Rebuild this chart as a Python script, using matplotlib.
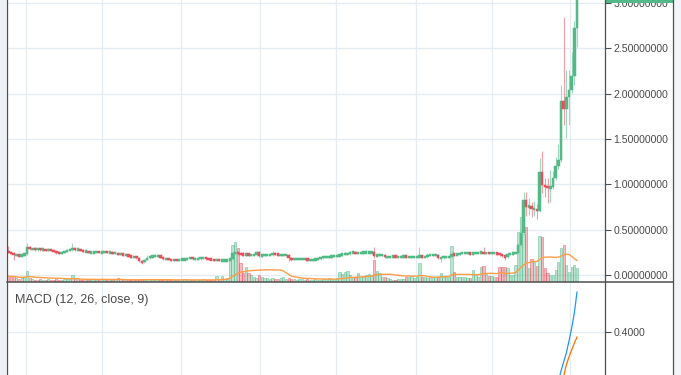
import numpy as np
import pandas as pd
import matplotlib
matplotlib.use("Agg")
import matplotlib.pyplot as plt
from matplotlib.patches import Rectangle
from matplotlib.lines import Line2D
from matplotlib.colors import to_rgba

# ---------------- data ----------------
closes = [
    0.25, 0.24, 0.22, 0.22, 0.21, 0.22, 0.23, 0.31, 0.29, 0.29,
    0.28, 0.29, 0.28, 0.28, 0.27, 0.28, 0.27, 0.26, 0.25, 0.24,
    0.25, 0.26, 0.27, 0.28, 0.30, 0.28, 0.28, 0.27, 0.26, 0.26,
    0.25, 0.25, 0.25, 0.26, 0.25, 0.25, 0.26, 0.25, 0.25, 0.24,
    0.24, 0.23, 0.23, 0.22, 0.22, 0.21, 0.20, 0.20, 0.19, 0.15,
    0.14, 0.17, 0.19, 0.20, 0.21, 0.21, 0.21, 0.20, 0.18, 0.18,
    0.17, 0.165, 0.165, 0.16, 0.17, 0.17, 0.17, 0.19, 0.19, 0.18,
    0.18, 0.18, 0.19, 0.19, 0.18, 0.175, 0.17, 0.165, 0.165, 0.16,
    0.16, 0.16, 0.16, 0.18, 0.24, 0.25, 0.24, 0.23, 0.22, 0.23,
    0.22, 0.22, 0.22, 0.25, 0.21, 0.22, 0.22, 0.22, 0.22, 0.24,
    0.23, 0.22, 0.22, 0.22, 0.22, 0.19, 0.17, 0.18, 0.18, 0.18,
    0.18, 0.18, 0.165, 0.165, 0.17, 0.175, 0.18, 0.19, 0.20, 0.20,
    0.20, 0.21, 0.21, 0.21, 0.22, 0.23, 0.23, 0.23, 0.25, 0.25,
    0.24, 0.24, 0.245, 0.25, 0.25, 0.25, 0.25, 0.21, 0.22, 0.22,
    0.22, 0.20, 0.20, 0.20, 0.21, 0.20, 0.20, 0.20, 0.21, 0.20,
    0.20, 0.20, 0.20, 0.20, 0.21, 0.20, 0.20, 0.22, 0.22, 0.22,
    0.22, 0.19, 0.19, 0.20, 0.20, 0.20, 0.23, 0.225, 0.23, 0.24,
    0.24, 0.24, 0.24, 0.235, 0.24, 0.24, 0.245, 0.25, 0.24, 0.245,
    0.24, 0.24, 0.24, 0.235, 0.225, 0.21, 0.20, 0.23, 0.235, 0.24,
    0.245, 0.33, 0.46, 0.83, 0.75, 0.76, 0.73, 0.73, 0.71, 1.14,
    0.99, 0.98, 0.96, 0.97, 1.07, 1.20, 1.27, 1.92, 1.83, 1.96,
    2.04, 2.20, 2.72, 3.20,
]
first_open = 0.26

# wick lengths above / below the body, in hundredths of a unit
wick_up = [
    6, 1, 1, 1, 1, 1, 1, 4, 1, 1,
    2, 1, 1, 1, 1, 2, 1, 1, 1, 2,
    1, 1, 2, 1, 5, 1, 1, 1, 2, 1,
    1, 1, 1, 1, 1, 1, 1, 1, 2, 1,
    1, 1, 1, 1, 2, 1, 1, 1, 1, 1,
    1, 1, 3, 1, 1, 1, 1, 1, 1, 1,
    1, 1, 1, 1, 1, 1, 2, 1, 1, 1,
    1, 1, 1, 1, 1, 1, 1, 1, 1, 1,
    1, 1, 1, 1, 2, 2, 1, 1, 2, 1,
    1, 1, 1, 2, 1, 1, 1, 1, 1, 2,
    1, 1, 1, 1, 1, 1, 1, 1, 1, 1,
    1, 1, 1, 1, 1, 1, 1, 1, 1, 1,
    1, 1, 1, 1, 1, 1, 2, 1, 2, 1,
    1, 1, 1, 2, 3, 1, 1, 6, 1, 1,
    1, 1, 1, 1, 1, 1, 1, 1, 1, 1,
    1, 1, 1, 1, 10, 1, 1, 2, 1, 1,
    1, 1, 1, 1, 1, 1, 3, 1, 1, 1,
    1, 1, 1, 1, 1, 1, 1, 2, 6, 1,
    1, 1, 1, 1, 1, 1, 1, 2, 1, 1,
    1, 2, 4, 8, 8, 9, 4, 9, 5, 15,
    23, 8, 9, 19, 8, 10, 18, 18, 93, 30,
    22, 26, 8, 5,
]
wick_dn = [
    1, 1, 5, 1, 1, 1, 1, 1, 1, 1,
    1, 1, 1, 1, 1, 1, 1, 1, 2, 1,
    1, 1, 1, 1, 1, 1, 1, 1, 1, 1,
    1, 1, 1, 1, 1, 1, 1, 1, 1, 1,
    1, 1, 1, 1, 1, 1, 1, 1, 1, 1,
    2, 1, 1, 1, 1, 1, 1, 1, 1, 1,
    1, 1, 1, 1, 1, 1, 1, 1, 1, 1,
    1, 1, 1, 1, 1, 1, 1, 1, 1, 1,
    1, 1, 1, 1, 1, 1, 2, 1, 1, 1,
    1, 1, 1, 1, 1, 1, 1, 1, 1, 1,
    1, 1, 1, 1, 1, 4, 2, 1, 1, 1,
    1, 1, 1, 1, 1, 1, 1, 1, 1, 1,
    1, 1, 1, 1, 1, 1, 1, 1, 1, 1,
    1, 1, 1, 1, 1, 1, 1, 2, 1, 1,
    1, 1, 1, 1, 1, 1, 1, 1, 1, 1,
    1, 1, 1, 1, 1, 1, 1, 1, 1, 1,
    1, 1, 5, 1, 1, 1, 1, 1, 1, 1,
    1, 1, 1, 1, 1, 1, 1, 1, 1, 1,
    1, 1, 1, 1, 1, 1, 3, 1, 1, 1,
    1, 1, 1, 2, 10, 9, 9, 8, 9, 1,
    9, 12, 17, 16, 2, 2, 3, 2, 18, 32,
    31, 3, 10, 20,
]

volumes = [
    6, 5, 6, 4, 3, 4, 5, 11, 4, 3,
    2, 2, 3, 2, 2, 3, 2, 2, 4, 2,
    2, 3, 3, 3, 7, 3, 3, 2, 2, 2,
    2, 2, 2, 2, 2, 2, 2, 2, 2, 2,
    3, 4, 3, 2, 2, 2, 2, 2, 2, 3,
    3, 2, 3, 2, 2, 2, 2, 2, 2, 2,
    2, 2, 2, 2, 2, 2, 3, 2, 2, 2,
    2, 2, 2, 3, 2, 2, 2, 2, 6, 3,
    6, 3, 4, 24, 37, 40, 34, 19, 9, 15,
    9, 7, 5, 4, 7, 5, 4, 4, 3, 4,
    3, 3, 4, 5, 3, 4, 3, 3, 2, 3,
    3, 2, 3, 2, 2, 3, 2, 2, 3, 3,
    4, 3, 3, 4, 10, 8, 10, 11, 7, 5,
    5, 9, 5, 5, 7, 8, 6, 22, 11, 9,
    5, 5, 4, 3, 2, 2, 3, 3, 3, 5,
    5, 6, 4, 5, 19, 5, 5, 4, 5, 5,
    5, 5, 9, 5, 5, 5, 36, 10, 5, 5,
    5, 5, 4, 4, 12, 8, 5, 15, 16, 8,
    6, 6, 5, 5, 15, 15, 15, 14, 7, 7,
    17, 50, 65, 48, 55, 14, 23, 20, 16, 46,
    45, 14, 9, 7, 7, 12, 20, 34, 37, 17,
    10, 15, 17, 14,
]

macd_idx = [205, 206, 207, 208, 209, 210, 211, 212, 213]
macd_line = [0.20, 0.233, 0.27, 0.30, 0.33, 0.37, 0.413, 0.463, 0.533]
signal_line = [0.17, 0.19, 0.213, 0.253, 0.29, 0.317, 0.34, 0.363, 0.383]

price_ticks = [0.0, 0.5, 1.0, 1.5, 2.0, 2.5, 3.0]
macd_ticks = [0.4]
time_grid = [6.6, 35.1, 64.7, 94.3, 122.7, 152.7, 181.2, 210.4]
legend_text = "MACD (12, 26, close, 9)"

# ---------------- derived ----------------
n = len(closes)
idx = np.arange(n)
opens = [first_open] + closes[:-1]
highs = [max(o, c) + u / 100 for o, c, u in zip(opens, closes, wick_up)]
lows = [min(o, c) - d / 100 for o, c, d in zip(opens, closes, wick_dn)]
up = [c >= o for o, c in zip(opens, closes)]
vol_ma = pd.Series(volumes, dtype=float).rolling(20, min_periods=1).mean()

GREEN = "#53b987"
RED = "#eb4d5c"
GRID = "#e4ecf2"
AX = "#4f4f4f"
TXT = "#4a4a4a"

W, H = 681, 375
fig = plt.figure(figsize=(W / 100, H / 100), dpi=100)
fig.patch.set_facecolor("white")


def px_axes(x0, y0, x1, y1):
    return fig.add_axes([x0 / W, 1 - y1 / H, (x1 - x0) / W, (y1 - y0) / H])


XL = (-0.487, 223.3)
PRICE_LIM = (-7 / 90.67, 275 / 90.67)
MACD_LIM = (0.4 - 43 / 300, 0.4 + 49 / 300)

# grid / tick axes (bottom layer)
ax_g = px_axes(7, 0, 604.5, 282)
ax_g.set_xlim(*XL)
ax_g.set_ylim(*PRICE_LIM)
ax_g.set_xticks(time_grid)
ax_g.set_yticks(price_ticks)
ax_g.set_yticklabels([f"{v:.8f}" for v in price_ticks], fontfamily="Liberation Sans")
ax_g.yaxis.tick_right()
ax_g.tick_params(axis="y", length=4, width=0.8, color=AX, pad=2.5,
                 labelsize=7.6, labelcolor=TXT)
ax_g.tick_params(axis="x", length=0, labelbottom=False)
ax_g.grid(True, color=GRID, lw=0.9)
for s in ax_g.spines.values():
    s.set_visible(False)

# volume layer
ax_v = px_axes(7, 0, 604.5, 282)
ax_v.set_xlim(*XL)
ax_v.set_ylim(0, 282)
ax_v.patch.set_visible(False)
ax_v.axis("off")
fills = [to_rgba(GREEN, 0.38) if u else to_rgba(RED, 0.38) for u in up]
edges = [to_rgba(GREEN, 0.65) if u else to_rgba(RED, 0.65) for u in up]
ax_v.bar(idx, volumes, width=0.85, color=fills, edgecolor=edges, linewidth=0.5)
ax_v.plot(idx, vol_ma, color="#ff9d45", lw=1.0)

# candle layer
ax_c = px_axes(7, 0, 604.5, 282)
ax_c.set_xlim(*XL)
ax_c.set_ylim(*PRICE_LIM)
ax_c.patch.set_visible(False)
ax_c.axis("off")
wick_cols = ["#9fd8bd" if u else "#f29ca5" for u in up]
ax_c.vlines(idx, lows, highs, colors=wick_cols, lw=0.8, zorder=1)
body_bottom = [min(o, c) for o, c in zip(opens, closes)]
body_h = [max(abs(c - o), 0.026) for o, c in zip(opens, closes)]
body_bottom = [b - (h - abs(c - o)) / 2 for b, h, o, c in zip(body_bottom, body_h, opens, closes)]
body_cols = [GREEN if u else RED for u in up]
ax_c.bar(idx, body_h, bottom=body_bottom, width=0.9, color=body_cols,
         edgecolor=body_cols, linewidth=0.35, zorder=3)

# MACD panel
ax_m = px_axes(7, 283, 604.5, 375)
ax_m.set_xlim(*XL)
ax_m.set_ylim(*MACD_LIM)
ax_m.set_xticks(time_grid)
ax_m.set_yticks(macd_ticks)
ax_m.set_yticklabels([f"{v:.4f}" for v in macd_ticks], fontfamily="Liberation Sans")
ax_m.yaxis.tick_right()
ax_m.tick_params(axis="y", length=4, width=0.8, color=AX, pad=2.5,
                 labelsize=7.6, labelcolor=TXT)
ax_m.tick_params(axis="x", length=0, labelbottom=False)
ax_m.grid(True, color=GRID, lw=0.9)
for s in ax_m.spines.values():
    s.set_visible(False)
ax_m.plot(macd_idx, macd_line, color="#2196f3", lw=0.9)
ax_m.plot(macd_idx, signal_line, color="#ff6d00", lw=0.9)

fig.text(15 / W, 1 - 300 / H, legend_text, fontsize=9, color=TXT,
         va="center", ha="left", fontfamily="Liberation Sans")

# frame pieces
fig.add_artist(Rectangle((0, 0), 6 / W, 1, transform=fig.transFigure,
                         color="#eef2f7", lw=0))
fig.add_artist(Rectangle((673.5 / W, 0), 8 / W, 1, transform=fig.transFigure,
                         color="#f1f4f8", lw=0))
fig.add_artist(Rectangle((604.5 / W, 1 - 3 / H), 68.5 / W, 3 / H,
                         transform=fig.transFigure, color=GREEN, lw=0))


def fline(x0, y0, x1, y1, lw=0.9):
    fig.add_artist(Line2D([x0 / W, x1 / W], [1 - y0 / H, 1 - y1 / H],
                          transform=fig.transFigure, color=AX, lw=lw))


fline(6.5, 0, 6.5, 375)
fline(604.5, 0, 604.5, 375)
fline(673, 0, 673, 375)
fline(7, 282.3, 673, 282.3, lw=1.1)

fig.savefig("out.png", dpi=100)
